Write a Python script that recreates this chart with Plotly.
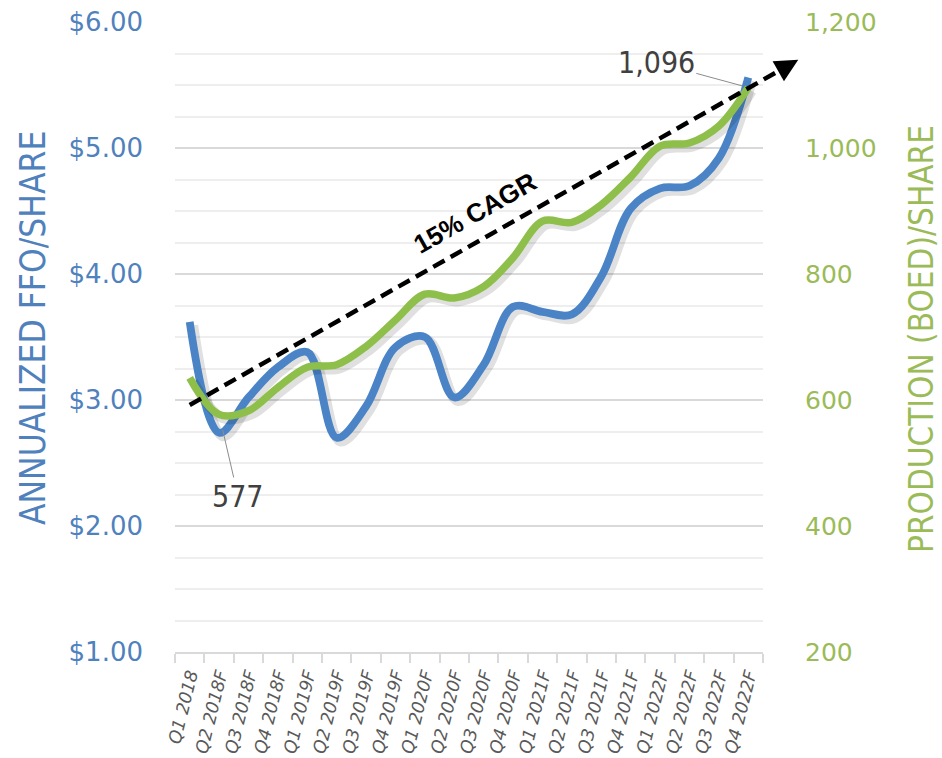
import math
import plotly.graph_objects as go

# Quarterly categories
quarters = ["Q1 2018", "Q2 2018F", "Q3 2018F", "Q4 2018F",
            "Q1 2019F", "Q2 2019F", "Q3 2019F", "Q4 2019F",
            "Q1 2020F", "Q2 2020F", "Q3 2020F", "Q4 2020F",
            "Q1 2021F", "Q2 2021F", "Q3 2021F", "Q4 2021F",
            "Q1 2022F", "Q2 2022F", "Q3 2022F", "Q4 2022F"]

# Annualized FFO per share ($), left axis
ffo_per_share = [3.62, 2.74, 3.02, 3.26, 3.38, 2.70, 2.95, 3.42, 3.50, 3.02,
                 3.28, 3.74, 3.70, 3.68, 3.98, 4.52, 4.68, 4.70, 4.92, 5.56]

# Production (BOED) per share, right axis
production_per_share = [635, 577, 583, 620, 652, 656, 685, 727, 768, 762,
                        780, 826, 884, 882, 910, 954, 1003, 1008, 1035, 1096]

# 15% CAGR trend arrow (category position, production value)
trend_x = [0.0, 20.7]
trend_y = [592, 1140]

# Axis ranges
ffo_range = [1, 6]
prod_range = [200, 1200]

BLUE_LINE = "#4a84c6"
BLUE_TEXT = "#4f81bd"
GREEN_LINE = "#8dbf4a"
GREEN_TEXT = "#9bbb59"

W, H = 942, 758
ML, MR, MT, MB = 175, 179, 22, 106
plot_w = W - ML - MR
plot_h = H - MT - MB
x_range = [-0.5, len(quarters) - 0.5]

px_per_cat = plot_w / (x_range[1] - x_range[0])
px_per_ffo = plot_h / (ffo_range[1] - ffo_range[0])
px_per_prod = plot_h / (prod_range[1] - prod_range[0])

idx = list(range(len(quarters)))

# soft drop shadow offset (pixels, down-right)
sh = 3.5
shadow_x = [i + sh / px_per_cat for i in idx]
shadow_line = dict(color="rgba(0,0,0,0.12)", width=10, shape="spline", smoothing=1)

fig = go.Figure()

fig.add_trace(go.Scatter(
    x=shadow_x, y=[v - sh / px_per_ffo for v in ffo_per_share],
    mode="lines", line=shadow_line, hoverinfo="skip", yaxis="y"))
fig.add_trace(go.Scatter(
    x=shadow_x, y=[v - sh / px_per_prod for v in production_per_share],
    mode="lines", line=shadow_line, hoverinfo="skip", yaxis="y2"))

fig.add_trace(go.Scatter(
    x=idx, y=ffo_per_share, name="Annualized FFO/Share",
    mode="lines", line=dict(color=BLUE_LINE, width=7.8, shape="spline", smoothing=1),
    yaxis="y"))
fig.add_trace(go.Scatter(
    x=idx, y=production_per_share, name="Production (BOED)/Share",
    mode="lines", line=dict(color=GREEN_LINE, width=7.5, shape="spline", smoothing=1),
    yaxis="y2"))


def to_paper(xv, yv):
    return ((xv - x_range[0]) / (x_range[1] - x_range[0]),
            (yv - prod_range[0]) / (prod_range[1] - prod_range[0]))


# dashed trend line drawn in paper space so it can run past the plot edge
x0p, y0p = to_paper(trend_x[0], trend_y[0])
x1p, y1p = to_paper(trend_x[1], trend_y[1])
fig.add_shape(type="line", xref="paper", yref="paper",
              x0=x0p, y0=y0p, x1=x1p, y1=y1p,
              line=dict(color="black", width=4.5, dash="13px,7px"), layer="above")

# arrow head at the end of the trend line
dx_px = (trend_x[1] - trend_x[0]) * px_per_cat
dy_px = (trend_y[1] - trend_y[0]) * px_per_prod
norm = (dx_px ** 2 + dy_px ** 2) ** 0.5
back = 24
fig.add_annotation(xref="paper", yref="paper", x=x1p, y=y1p, text="",
                   showarrow=True, arrowhead=2, arrowsize=1.15, arrowwidth=4,
                   arrowcolor="black", axref="pixel", ayref="pixel",
                   ax=-back * dx_px / norm, ay=back * dy_px / norm)

# trend label
angle = -math.degrees(math.atan2(dy_px, dx_px))
fig.add_annotation(x=9.7, y=897, xref="x", yref="y2", text="<b>15% CAGR</b>",
                   showarrow=False, textangle=angle,
                   font=dict(family="Liberation Sans, Arial, sans-serif", size=26, color="black"))

# data labels for first low and final production values
label_font = dict(family="DejaVu Sans Condensed, Liberation Sans Narrow, sans-serif",
                  size=30, color="#404040")
fig.add_annotation(x=1, y=production_per_share[1], xref="x", yref="y2",
                   text=f"{production_per_share[1]:,}", font=label_font,
                   showarrow=True, arrowhead=0, arrowwidth=1, arrowcolor="#8c8c8c",
                   ax=19, ay=82, standoff=16)
fig.add_annotation(x=19, y=production_per_share[19], xref="x", yref="y2",
                   text=f"{production_per_share[19]:,}", font=label_font,
                   showarrow=True, arrowhead=0, arrowwidth=1, arrowcolor="#8c8c8c",
                   ax=-92, ay=-25, standoff=6)

# axis titles
title_font = "DejaVu Sans Condensed, Liberation Sans Narrow, sans-serif"
fig.add_annotation(xref="paper", yref="paper", x=(33 - ML) / plot_w, y=(652 - 328) / plot_h,
                   xanchor="center", yanchor="middle",
                   text="ANNUALIZED FFO/SHARE", textangle=-90, showarrow=False,
                   font=dict(family=title_font, size=35, color=BLUE_TEXT))
fig.add_annotation(xref="paper", yref="paper", x=(921 - ML) / plot_w, y=(652 - 339) / plot_h,
                   xanchor="center", yanchor="middle",
                   text="PRODUCTION (BOED)/SHARE", textangle=-90, showarrow=False,
                   font=dict(family=title_font, size=33, color=GREEN_TEXT))

fig.update_layout(
    width=W, height=H,
    margin=dict(l=ML, r=MR, t=MT, b=MB, autoexpand=False),
    plot_bgcolor="white", paper_bgcolor="white",
    showlegend=False,
    xaxis=dict(
        range=x_range, tickmode="array", tickvals=idx, ticktext=quarters,
        tickangle=-76, ticks="", ticklabelstandoff=4,
        tickfont=dict(family="DejaVu Sans, Verdana, sans-serif", size=17.5,
                      color="#595959", style="italic"),
        showgrid=False, zeroline=False, showline=True, linecolor="#d9d9d9", linewidth=1.5,
        minor=dict(tick0=-0.5, dtick=1, ticks="outside", ticklen=9,
                   tickcolor="#d9d9d9", tickwidth=1.5, showgrid=False),
        automargin=False, fixedrange=True,
    ),
    yaxis=dict(
        range=ffo_range, dtick=1, tickformat="$.2f",
        tickfont=dict(family="DejaVu Sans, Verdana, sans-serif", size=26, color=BLUE_TEXT),
        showgrid=True, gridcolor="#d9d9d9", gridwidth=1.5,
        minor=dict(dtick=0.25, showgrid=True, gridcolor="#eeeeee", gridwidth=1.5),
        zeroline=False, showline=False, ticks="", ticklabelstandoff=31,
        automargin=False,
    ),
    yaxis2=dict(
        range=prod_range, dtick=200, tickformat=",",
        overlaying="y", side="right",
        tickfont=dict(family="DejaVu Sans, Verdana, sans-serif", size=25, color=GREEN_TEXT),
        showgrid=False, zeroline=False, showline=False, ticks="", ticklabelstandoff=41,
        automargin=False,
    ),
)

fig.write_html("out.html")
